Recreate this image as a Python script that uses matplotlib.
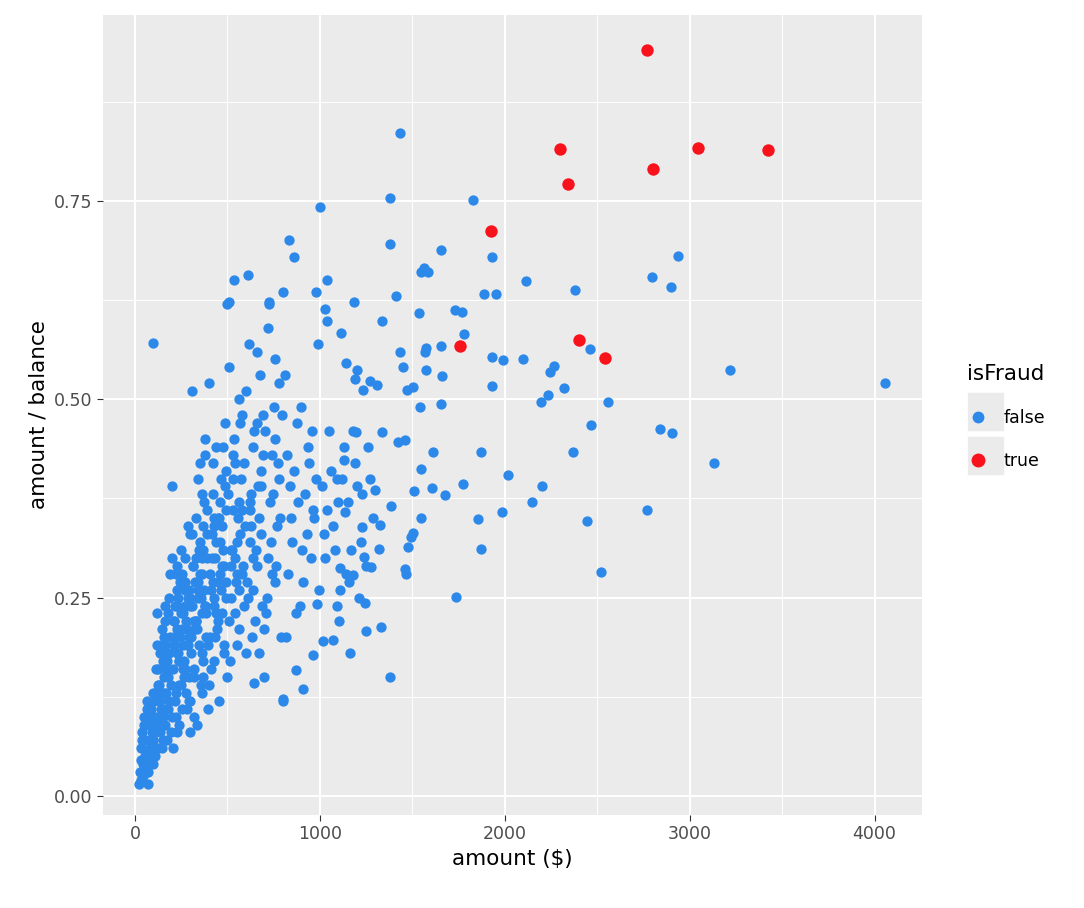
import matplotlib.pyplot as plt
from matplotlib.lines import Line2D
from matplotlib.patches import Rectangle

# fraud transactions (red)
fraud_amount = [2771, 2300, 2343, 3047, 3425, 2803, 1926, 1759, 2403, 2543]
fraud_ratio = [0.940, 0.815, 0.771, 0.817, 0.814, 0.790, 0.712, 0.567, 0.574, 0.552]

# sparse legit transactions (blue)
sparse_amount = [4055, 3220, 3133, 2938, 2900, 2798, 2906, 2841, 2771, 2560, 2522, 2468,
                 2446, 2381, 2370, 2462, 2322, 2268, 2246, 2235, 2197, 2203, 2148, 2116,
                 2100, 2019, 1987, 1991, 1954, 1932, 1932, 1932, 1888, 1872, 1872, 1856,
                 1829, 1775, 1737, 1780, 1769, 1731, 1436, 1380, 1380, 1380, 1001, 1655,
                 1564, 1548, 1586, 1413, 1185, 1337, 833, 860, 1039, 611, 535, 508, 97,
                 1028, 1039, 979, 800, 725, 1477, 1466, 1460, 1331, 1250, 1093, 1071, 909,
                 800, 644, 871, 985, 1104, 1017, 1163, 963, 671, 1245, 1109, 1510, 1548,
                 1607, 1677, 1548, 1504, 1494, 1613, 1543, 1656, 1661, 1575, 1656, 1575,
                 1537, 1570, 1461, 1423, 1337, 1310, 1272, 1434, 1450, 1472, 1505, 1326,
                 1385, 1299, 1321, 1277, 1239, 1180, 1228, 1136, 1131, 1196, 1234, 1201,
                 1142, 1115, 1190]
sparse_ratio = [0.520, 0.537, 0.419, 0.680, 0.641, 0.654, 0.457, 0.462, 0.360, 0.497, 0.282, 0.468,
                0.346, 0.638, 0.433, 0.563, 0.514, 0.542, 0.534, 0.505, 0.497, 0.390, 0.371, 0.649,
                0.550, 0.405, 0.358, 0.549, 0.632, 0.553, 0.517, 0.679, 0.632, 0.434, 0.311, 0.349,
                0.751, 0.393, 0.251, 0.582, 0.610, 0.612, 0.836, 0.754, 0.695, 0.150, 0.742, 0.688,
                0.665, 0.660, 0.660, 0.630, 0.623, 0.598, 0.700, 0.679, 0.650, 0.656, 0.650, 0.623, 0.571,
                0.613, 0.599, 0.635, 0.635, 0.622, 0.314, 0.280, 0.286, 0.213, 0.208, 0.240, 0.196, 0.135,
                0.122, 0.142, 0.159, 0.242, 0.220, 0.195, 0.180, 0.178, 0.180, 0.243, 0.287, 0.384, 0.412,
                0.388, 0.379, 0.350, 0.331, 0.326, 0.434, 0.490, 0.494, 0.529, 0.537, 0.567, 0.564,
                0.608, 0.560, 0.449, 0.446, 0.459, 0.518, 0.523, 0.559, 0.540, 0.511, 0.515, 0.341,
                0.366, 0.385, 0.311, 0.288, 0.301, 0.278, 0.339, 0.358, 0.423, 0.459, 0.511, 0.537,
                0.545, 0.583, 0.526]

# dense cluster of legit transactions (blue), read band by band
dense_amount = [
    20, 25, 30, 35, 40, 45, 50, 55, 60, 65, 70, 75, 80, 85, 90, 95, 30, 45, 60, 75, 90, 50, 70, 85,
    100, 105, 110, 115, 120, 125, 130, 135, 140, 145, 150, 155, 160, 165, 170, 175, 180, 185, 190, 195,
    100, 110, 120, 130, 140, 150, 160, 170, 180, 190, 105, 125, 145, 165, 185, 115, 135, 155, 175, 195,
    200, 205, 210, 215, 220, 225, 230, 235, 240, 245, 250, 255, 260, 265, 270, 275, 280, 285, 290, 295,
    200, 210, 220, 230, 240, 250, 260, 270, 280, 290, 205, 225, 245, 265, 285, 215, 235, 255, 275, 295,
    200, 220, 240, 260, 280, 210, 230, 250, 270, 290,
    300, 305, 310, 315, 320, 325, 330, 335, 340, 345, 350, 355, 360, 365, 370, 375, 380, 385, 390, 395,
    300, 310, 320, 330, 340, 350, 360, 370, 380, 390, 305, 325, 345, 365, 385, 315, 335, 355, 375, 395,
    300, 320, 340, 360, 380, 310, 330, 350, 370, 390,
    400, 405, 410, 415, 420, 425, 430, 435, 440, 445, 450, 455, 460, 465, 470, 475, 480, 485, 490, 495,
    400, 410, 420, 430, 440, 450, 460, 470, 480, 490, 405, 425, 445, 465, 485, 415, 435, 455, 475, 495,
    500, 510, 520, 530, 540, 550, 560, 570, 580, 590, 505, 515, 525, 535, 545, 555, 565, 575, 585, 595,
    500, 520, 540, 560, 580, 510, 530, 550, 570, 590,
    600, 610, 620, 630, 640, 650, 660, 670, 680, 690, 605, 615, 625, 635, 645, 655, 665, 675, 685, 695,
    600, 620, 640, 660, 680,
    700, 710, 720, 730, 740, 750, 760, 770, 780, 790, 705, 715, 725, 735, 745, 755, 765, 775, 785, 795,
    700, 720, 740, 760, 780,
    800, 815, 830, 845, 860, 875, 890, 905, 920, 935, 950, 965, 980, 995, 810, 840, 870, 900, 930, 960,
    990, 820, 850, 880, 910, 940, 970,
    1010, 1030, 1050, 1070, 1090, 1110, 1130, 1150, 1170, 1190, 1210, 1230, 1250, 1270, 1290,
    1020, 1060, 1100, 1140, 1180, 1220, 1260, 1040, 1080, 1120, 1160, 1200,
    # extra fill for the densest part of the cloud
    40, 55, 70, 85, 65, 80, 95, 110, 125, 140, 155, 170, 185, 120, 135, 150, 165, 180,
    210, 225, 240, 255, 270, 285, 230, 250, 270, 290, 320, 340, 360, 380, 330, 350, 370,
    420, 440, 460, 480, 430, 450, 470, 520, 540, 560, 580, 530, 550, 620, 640, 660, 680,
]
dense_ratio = [
    0.015, 0.03, 0.06, 0.02, 0.08, 0.04, 0.10, 0.05, 0.07, 0.12, 0.03, 0.09, 0.06, 0.11, 0.08, 0.13, 0.045, 0.025, 0.035, 0.055, 0.05, 0.09, 0.015, 0.10,
    0.04, 0.12, 0.08, 0.16, 0.10, 0.06, 0.14, 0.18, 0.11, 0.21, 0.07, 0.15, 0.19, 0.09, 0.13, 0.17, 0.23, 0.12, 0.20, 0.08,
    0.07, 0.05, 0.19, 0.09, 0.13, 0.17, 0.24, 0.11, 0.15, 0.28, 0.10, 0.14, 0.06, 0.22, 0.18, 0.09, 0.12, 0.20, 0.07, 0.14,
    0.10, 0.16, 0.22, 0.12, 0.28, 0.18, 0.08, 0.25, 0.14, 0.20, 0.31, 0.11, 0.23, 0.17, 0.27, 0.13, 0.21, 0.34, 0.15, 0.24,
    0.39, 0.19, 0.13, 0.26, 0.09, 0.23, 0.16, 0.30, 0.19, 0.12, 0.06, 0.21, 0.27, 0.15, 0.25, 0.24, 0.18, 0.28, 0.22, 0.33,
    0.30, 0.10, 0.17, 0.19, 0.11, 0.22, 0.20, 0.14, 0.26, 0.20,
    0.12, 0.18, 0.24, 0.29, 0.15, 0.21, 0.35, 0.09, 0.27, 0.19, 0.32, 0.14, 0.23, 0.38, 0.17, 0.26, 0.43, 0.20, 0.30, 0.11,
    0.25, 0.33, 0.16, 0.22, 0.40, 0.28, 0.13, 0.34, 0.24, 0.36, 0.20, 0.27, 0.31, 0.18, 0.23, 0.29, 0.21, 0.25, 0.37, 0.19,
    0.08, 0.10, 0.26, 0.30, 0.45, 0.51, 0.22, 0.42, 0.15, 0.33,
    0.14, 0.20, 0.26, 0.33, 0.38, 0.17, 0.24, 0.30, 0.44, 0.21, 0.35, 0.12, 0.28, 0.40, 0.23, 0.31, 0.19, 0.47, 0.27, 0.36,
    0.52, 0.16, 0.42, 0.25, 0.32, 0.22, 0.37, 0.29, 0.18, 0.41, 0.28, 0.34, 0.23, 0.26, 0.39, 0.30, 0.20, 0.35, 0.44, 0.25,
    0.15, 0.22, 0.29, 0.36, 0.42, 0.19, 0.26, 0.33, 0.48, 0.24, 0.38, 0.17, 0.31, 0.45, 0.27, 0.35, 0.21, 0.40, 0.29, 0.34,
    0.62, 0.25, 0.30, 0.50, 0.36, 0.54, 0.40, 0.28, 0.47, 0.42,
    0.18, 0.25, 0.32, 0.38, 0.44, 0.22, 0.29, 0.35, 0.41, 0.48, 0.27, 0.57, 0.34, 0.20, 0.46, 0.31, 0.39, 0.53, 0.24, 0.43,
    0.51, 0.37, 0.26, 0.56, 0.33,
    0.15, 0.23, 0.30, 0.37, 0.43, 0.49, 0.27, 0.34, 0.40, 0.20, 0.46, 0.25, 0.62, 0.32, 0.38, 0.55, 0.29, 0.42, 0.35, 0.48,
    0.21, 0.59, 0.28, 0.45, 0.52,
    0.12, 0.20, 0.28, 0.35, 0.41, 0.47, 0.24, 0.31, 0.38, 0.44, 0.30, 0.36, 0.40, 0.26, 0.53, 0.39, 0.23, 0.49, 0.33, 0.46,
    0.57, 0.43, 0.32, 0.37, 0.27, 0.42, 0.35,
    0.39, 0.30, 0.46, 0.34, 0.40, 0.26, 0.44, 0.37, 0.31, 0.42, 0.25, 0.38, 0.29, 0.40, 0.35,
    0.33, 0.41, 0.37, 0.28, 0.46, 0.32, 0.44, 0.36, 0.31, 0.40, 0.27, 0.39,
    0.07, 0.09, 0.04, 0.07, 0.11, 0.05, 0.07, 0.13, 0.16, 0.19, 0.13, 0.16, 0.25, 0.23, 0.08, 0.10, 0.18, 0.11,
    0.20, 0.24, 0.17, 0.21, 0.24, 0.19, 0.29, 0.27, 0.16, 0.26, 0.22, 0.25, 0.28, 0.24, 0.30, 0.26, 0.31,
    0.27, 0.23, 0.32, 0.29, 0.35, 0.27, 0.34, 0.31, 0.23, 0.37, 0.28, 0.43, 0.32, 0.36, 0.30, 0.47, 0.39,
]

blue = "#2C89EA"
red = "#F8131C"

fig = plt.figure(figsize=(10.84, 9.08), dpi=100)
ax = fig.add_axes([0.095, 0.1024, 0.756, 0.881])
ax.set_facecolor("#EBEBEB")

ax.scatter(dense_amount + sparse_amount, dense_ratio + sparse_ratio, s=55, color=blue, linewidths=0, zorder=3)
ax.scatter(fraud_amount, fraud_ratio, s=80, color=red, linewidths=0, zorder=4)

ax.set_xlim(-173, 4259)
ax.set_ylim(-0.024, 0.984)
ax.set_xticks([0, 1000, 2000, 3000, 4000])
ax.set_yticks([0.0, 0.25, 0.5, 0.75])
ax.set_yticklabels(["0.00", "0.25", "0.50", "0.75"])
ax.set_xticks([500, 1500, 2500, 3500], minor=True)
ax.set_yticks([0.125, 0.375, 0.625, 0.875], minor=True)
ax.grid(True, which="major", color="white", linewidth=1.5, zorder=0)
ax.grid(True, which="minor", color="white", linewidth=0.7, zorder=0)
ax.set_axisbelow(True)
for s in ax.spines.values():
    s.set_visible(False)
ax.tick_params(which="major", length=4, color="#333333", labelsize=12.5, labelcolor="#4D4D4D")
ax.tick_params(which="minor", length=0)
ax.set_xlabel("amount ($)", fontsize=15.5)
ax.set_ylabel("amount / balance", fontsize=15.5)

# grey legend key boxes
for top in (392, 436):
    fig.patches.append(Rectangle((967 / 1084, 1 - (top + 40) / 908), 38 / 1084, 40 / 908,
                                 transform=fig.transFigure, facecolor="#EBEBEB", edgecolor="white",
                                 linewidth=1.2, zorder=0))

handles = [Line2D([], [], marker="o", linestyle="", color=blue, markersize=7.5, label="false"),
           Line2D([], [], marker="o", linestyle="", color=red, markersize=9, label="true")]
leg = fig.legend(handles=handles, title="isFraud", loc="upper left", bbox_to_anchor=(0.886, 0.607),
                 frameon=False, fontsize=12.5, title_fontsize=15.5, handletextpad=0.9, labelspacing=1.45,
                 borderaxespad=0, handlelength=1.2)
leg._legend_box.align = "left"

fig.savefig("out.png", dpi=100)
